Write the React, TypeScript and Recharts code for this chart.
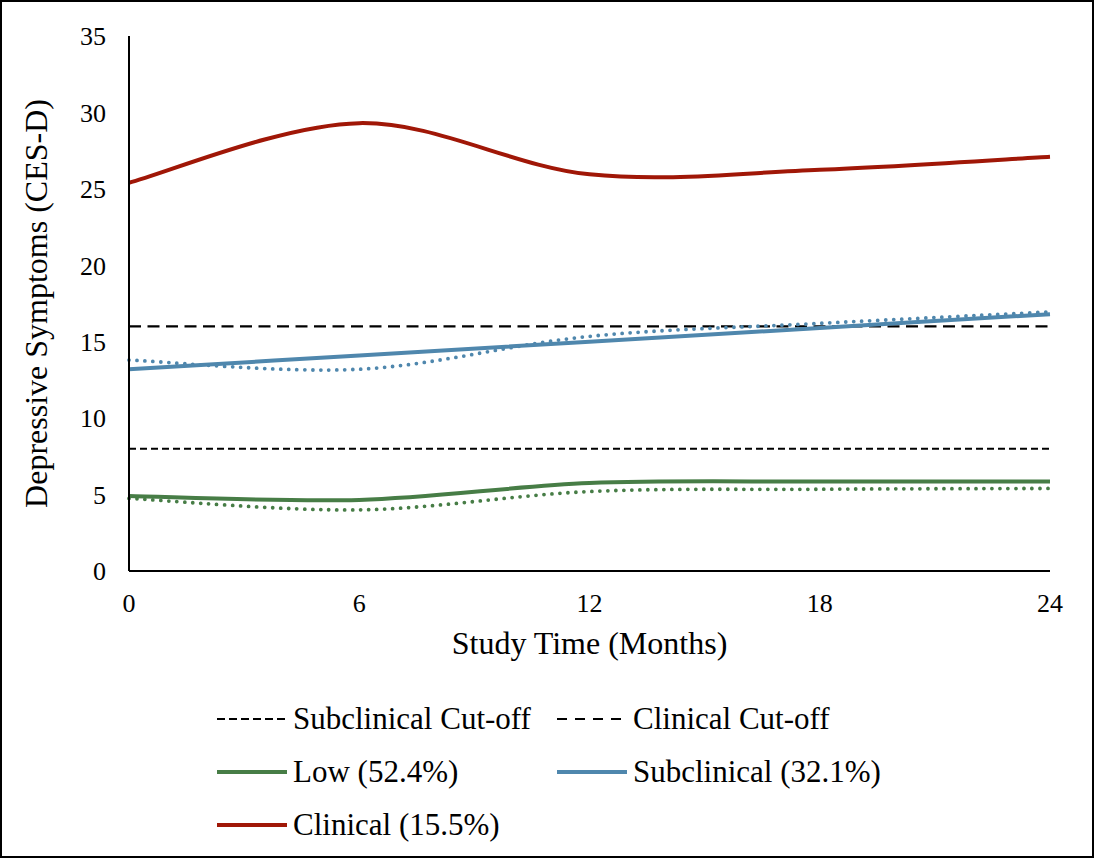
import React from "react";
import { LineChart, Line, XAxis, YAxis, ReferenceLine } from "recharts";

const months = [0, 6, 12, 18, 24];
const lowModel = [4.9, 4.65, 5.75, 5.85, 5.85];
const lowObserved = [4.75, 4.0, 5.2, 5.35, 5.4];
const subModel = [13.2, 14.1, 15.0, 15.9, 16.8];
const subObserved = [13.8, 13.2, 15.35, 16.2, 16.95];
const clinModel = [25.4, 29.3, 25.95, 26.25, 27.1];
const xTicks = [0, 6, 12, 18, 24];
const yTicks = [0, 5, 10, 15, 20, 25, 30, 35];
const subclinicalCutoff = 8;
const clinicalCutoff = 16;

const GREEN = "#477D46";
const BLUE = "#4F87AD";
const RED = "#A01707";
const FONT = "'Liberation Serif', 'Times New Roman', serif";

const data = months.map((m, i) => ({
  month: m,
  lowModel: lowModel[i],
  lowObserved: lowObserved[i],
  subModel: subModel[i],
  subObserved: subObserved[i],
  clinModel: clinModel[i],
}));

const legendItems = [
  { name: "Subclinical Cut-off", color: "#000", dash: "8 4", width: 2 },
  { name: "Clinical Cut-off", color: "#000", dash: "10 8", width: 2 },
  { name: "Low (52.4%)", color: GREEN, dash: "", width: 4 },
  { name: "Subclinical (32.1%)", color: BLUE, dash: "", width: 4 },
  { name: "Clinical (15.5%)", color: RED, dash: "", width: 4 },
];

// Excel-like smoothing (Catmull-Rom bezier)
function excelSmooth(context: any) {
  let pts: number[][] = [];
  return {
    areaStart() {},
    areaEnd() {},
    lineStart() {
      pts = [];
    },
    lineEnd() {
      const n = pts.length;
      if (n === 0) return;
      context.moveTo(pts[0][0], pts[0][1]);
      for (let i = 0; i < n - 1; i++) {
        const p0 = pts[Math.max(i - 1, 0)];
        const p1 = pts[i];
        const p2 = pts[i + 1];
        const p3 = pts[Math.min(i + 2, n - 1)];
        const c1x = p1[0] + (p2[0] - p0[0]) / 6;
        const c1y = p1[1] + (p2[1] - p0[1]) / 6;
        const c2x = p2[0] - (p3[0] - p1[0]) / 6;
        const c2y = p2[1] - (p3[1] - p1[1]) / 6;
        context.bezierCurveTo(c1x, c1y, c2x, c2y, p2[0], p2[1]);
      }
    },
    point(x: number, y: number) {
      pts.push([+x, +y]);
    },
  };
}

function Legend() {
  return (
    <div
      style={{
        position: "absolute",
        left: 217,
        top: 692,
        display: "grid",
        gridTemplateColumns: "340px 340px",
        gridAutoRows: "53px",
        fontFamily: FONT,
        fontSize: 31,
        color: "#000",
      }}
    >
      {legendItems.map((it) => (
        <div key={it.name} style={{ display: "flex", alignItems: "center", whiteSpace: "nowrap" }}>
          <svg width={70} height={10} style={{ marginRight: 6 }}>
            <line
              x1={0}
              y1={5}
              x2={70}
              y2={5}
              stroke={it.color}
              strokeWidth={it.width}
              strokeDasharray={it.dash || undefined}
              strokeLinecap={it.dash ? "butt" : "round"}
            />
          </svg>
          <span>{it.name}</span>
        </div>
      ))}
    </div>
  );
}

export default function App() {
  return (
    <div
      style={{
        position: "absolute",
        left: 0,
        top: 0,
        width: 1094,
        height: 858,
        background: "#fff",
      }}
    >
      <div
        style={{
          position: "absolute",
          left: 0,
          top: 0,
          width: 1094,
          height: 858,
          boxSizing: "border-box",
          border: "2px solid #000",
        }}
      />
      <div style={{ position: "absolute", left: 0, top: 0 }}>
        <LineChart
          width={1094}
          height={858}
          data={data}
          margin={{ top: 36, right: 44, bottom: 187, left: 0 }}
        >
          <XAxis
            dataKey="month"
            type="number"
            domain={[0, 24]}
            ticks={xTicks}
            tickLine={false}
            tickMargin={17}
            axisLine={{ stroke: "#000", strokeWidth: 2 }}
            tick={{ fill: "#000", fontFamily: FONT, fontSize: 26 }}
            height={100}
            label={{
              value: "Study Time (Months)",
              position: "insideTop",
              offset: 60,
              style: { fill: "#000", fontFamily: FONT, fontSize: 32 },
            }}
          />
          <YAxis
            type="number"
            domain={[0, 35]}
            ticks={yTicks}
            width={129}
            tickLine={false}
            tickMargin={17}
            axisLine={{ stroke: "#000", strokeWidth: 2 }}
            tick={{ fill: "#000", fontFamily: FONT, fontSize: 26 }}
            label={{
              value: "Depressive Symptoms (CES-D)",
              angle: -90,
              position: "insideLeft",
              offset: 36,
              style: { fill: "#000", fontFamily: FONT, fontSize: 32, textAnchor: "middle" },
            }}
          />
          <ReferenceLine y={subclinicalCutoff} stroke="#000" strokeWidth={2} strokeDasharray="7 4" />
          <ReferenceLine y={clinicalCutoff} stroke="#000" strokeWidth={2.2} strokeDasharray="12 6.5" />
          <Line
            dataKey="lowObserved"
            type={excelSmooth as any}
            stroke={GREEN}
            strokeWidth={3.8}
            strokeDasharray="0 8"
            strokeLinecap="round"
            dot={false}
            activeDot={false}
            isAnimationActive={false}
          />
          <Line
            dataKey="subObserved"
            type={excelSmooth as any}
            stroke={BLUE}
            strokeWidth={3.8}
            strokeDasharray="0 8"
            strokeLinecap="round"
            dot={false}
            activeDot={false}
            isAnimationActive={false}
          />
          <Line
            dataKey="lowModel"
            type={excelSmooth as any}
            stroke={GREEN}
            strokeWidth={4}
            dot={false}
            activeDot={false}
            isAnimationActive={false}
          />
          <Line
            dataKey="subModel"
            type={excelSmooth as any}
            stroke={BLUE}
            strokeWidth={4}
            dot={false}
            activeDot={false}
            isAnimationActive={false}
          />
          <Line
            dataKey="clinModel"
            type={excelSmooth as any}
            stroke={RED}
            strokeWidth={4}
            dot={false}
            activeDot={false}
            isAnimationActive={false}
          />
        </LineChart>
      </div>
      <Legend />
    </div>
  );
}
